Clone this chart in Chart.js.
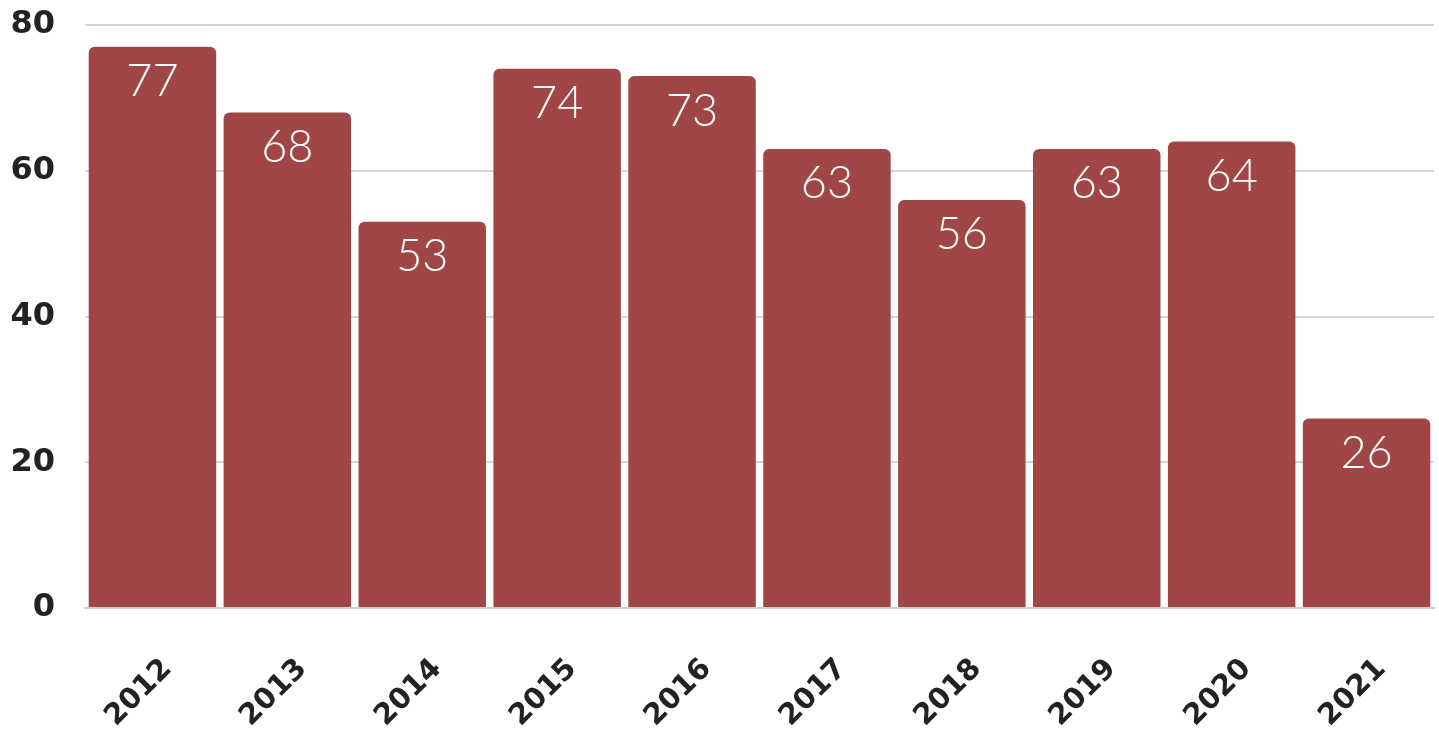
<!DOCTYPE html>
<html><head><meta charset="utf-8">
<script src="https://cdn.jsdelivr.net/npm/chart.js@4"></script>
<style>html,body{margin:0;padding:0;background:#fff;}#wrap{width:1439px;height:732px;}</style>
</head><body><div id="wrap"><canvas id="c"></canvas></div>
<script>
const categories = ["2012","2013","2014","2015","2016","2017","2018","2019","2020","2021"];
const values = [77,68,53,74,73,63,56,63,64,26];
const yTicks = [0,20,40,60,80];

const labelPlugin = {
  id: 'barLabels',
  afterDatasetsDraw(chart) {
    const ctx = chart.ctx;
    const meta = chart.getDatasetMeta(0);
    ctx.save();
    ctx.fillStyle = '#ffffff';
    ctx.font = '300 45px Lato';
    ctx.textAlign = 'center';
    ctx.textBaseline = 'middle';
    meta.data.forEach((bar, i) => {
      ctx.fillText(String(values[i]), bar.x, bar.y + 35);
    });
    ctx.restore();
  }
};

new Chart(document.getElementById('c'), {
  type: 'bar',
  data: { labels: categories, datasets: [{ data: values, backgroundColor: '#a04646', borderRadius: {topLeft:6, topRight:6, bottomLeft:0, bottomRight:0}, borderSkipped: 'bottom', categoryPercentage: 1, barPercentage: 0.945 }] },
  options: {
    responsive: true, maintainAspectRatio: false, animation: false,
    layout: { padding: { top: 25, right: 5, left: 0, bottom: 0 } },
    plugins: { legend: { display: false }, tooltip: { enabled: false } },
    scales: {
      x: {
        grid: { display: false, drawTicks: false },
        border: { display: true, color: '#cfcfcf', width: 2 },
        ticks: { color: '#222', font: { family: 'DejaVu Sans', weight: 'bold', size: 29 }, maxRotation: 45, minRotation: 45, padding: 44, labelOffset: 15 },
        afterFit(s) { s.height = 124; s.paddingLeft = 0; s.paddingRight = 0; }
      },
      y: {
        min: 0, max: 80,
        afterBuildTicks(s) { s.ticks = yTicks.map(v => ({ value: v })); },
        grid: { color: '#d6d6d6', lineWidth: 2, drawTicks: false },
        border: { display: false },
        ticks: { color: '#222', font: { family: 'DejaVu Sans', weight: 'bold', size: 32 }, padding: 30 },
        afterFit(s) { s.width = 85; s.paddingTop = 0; s.paddingBottom = 0; }
      }
    }
  },
  plugins: [labelPlugin]
});
</script></body></html>
